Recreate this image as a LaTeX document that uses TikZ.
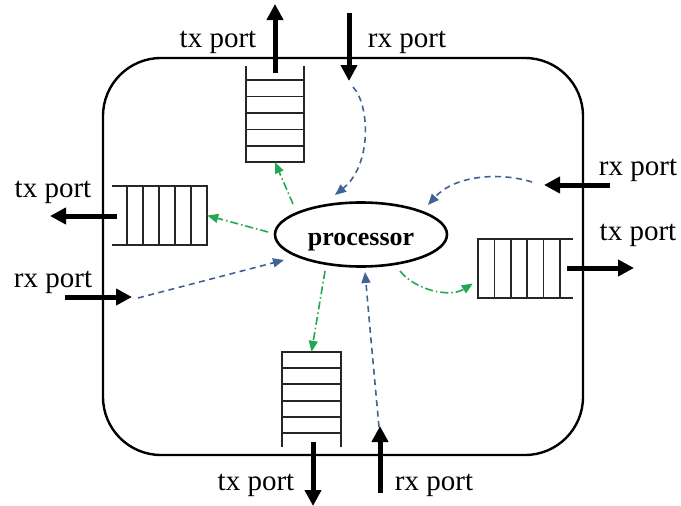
\documentclass[tikz,border=0pt]{standalone}
\usepackage{fontspec}
\setmainfont{Liberation Serif}
\usetikzlibrary{arrows.meta,shapes.geometric}
\definecolor{dblue}{RGB}{65,98,150}
\definecolor{dgreen}{RGB}{34,168,84}
\begin{document}
\begin{tikzpicture}[x=1pt,y=-1pt,
  port/.style={line width=5pt,-{Triangle[length=16pt,width=16pt]}},
  lbl/.style={font=\fontsize{29}{29}\selectfont, inner sep=0pt, anchor=base},
  qline/.style={line width=1.2pt, draw=black!85},
  qnode/.style={inner sep=0pt, draw=none},
  bl/.style={dblue, line width=1.6pt, dash pattern=on 6pt off 4.5pt, -{Triangle[length=11pt,width=9pt]}},
  gr/.style={dgreen, line width=1.6pt, dash pattern=on 8pt off 3pt on 1.5pt off 3pt, -{Triangle[length=11pt,width=9pt]}},
  procstyle/.style={ellipse, draw, line width=2.6pt, minimum width=172pt, minimum height=64pt, inner sep=0pt}
]
\useasboundingbox (0,0) rectangle (681,506);
% outer box
\draw[line width=2.4pt, rounded corners=58pt] (103,58) rectangle (583,455);

% processor
\node[procstyle] (proc) at (361,234.5) {};
\node[font=\bfseries\fontsize{26}{26}\selectfont, inner sep=0pt, anchor=base] (proctxt) at (361,245) {processor};

% queues
\node[qnode, minimum width=58pt, minimum height=82pt] (qT) at (275,121) {};
\draw[qline] (246,66) -- (246,162) -- (304,162) -- (304,66);
\foreach \y in {80,96.5,113,129.5,146} \draw[qline] (246,\y) -- (304,\y);

\node[qnode, minimum width=80pt, minimum height=59pt] (qL) at (167,215.5) {};
\draw[qline] (112,186) -- (207,186) -- (207,245) -- (112,245);
\foreach \x in {127,143,159,175,191} \draw[qline] (\x,186) -- (\x,245);

\node[qnode, minimum width=82pt, minimum height=59pt] (qR) at (519,268.5) {};
\draw[qline] (573,239) -- (478,239) -- (478,298) -- (573,298);
\foreach \x in {494.5,511,527,543.5,560} \draw[qline] (\x,239) -- (\x,298);

\node[qnode, minimum width=59pt, minimum height=81pt] (qB) at (311.5,392.5) {};
\draw[qline] (282,447) -- (282,352) -- (341,352) -- (341,447);
\foreach \y in {368,384,401,417,433} \draw[qline] (282,\y) -- (341,\y);

% port arrows
\coordinate (tTa) at (275,73);  \coordinate (tTb) at (275,4);
\coordinate (rTa) at (349,13);  \coordinate (rTb) at (349,81);
\coordinate (tLa) at (117,216); \coordinate (tLb) at (50,216);
\coordinate (rLa) at (65,297);  \coordinate (rLb) at (132,297);
\coordinate (rRa) at (610,185); \coordinate (rRb) at (544,185);
\coordinate (tRa) at (567,268); \coordinate (tRb) at (634,268);
\coordinate (tBa) at (313,442); \coordinate (tBb) at (313,506);
\coordinate (rBa) at (380,493); \coordinate (rBb) at (380,426);
\draw[port] (tTa) -- (tTb);
\draw[port] (rTa) -- (rTb);
\draw[port] (tLa) -- (tLb);
\draw[port] (rLa) -- (rLb);
\draw[port] (rRa) -- (rRb);
\draw[port] (tRa) -- (tRb);
\draw[port] (tBa) -- (tBb);
\draw[port] (rBa) -- (rBb);

% labels
\node[lbl] (lTt) at (218,47) {tx port};
\node[lbl] (lTr) at (407,47) {rx port};
\node[lbl] (lLt) at (53,197) {tx port};
\node[lbl] (lLr) at (53,287) {rx port};
\node[lbl] (lRr) at (638,175) {rx port};
\node[lbl] (lRt) at (638,240) {tx port};
\node[lbl] (lBt) at (256,490) {tx port};
\node[lbl] (lBr) at (434,490) {rx port};

% blue (rx) flows
\coordinate (bT0) at (353,87);   \coordinate (bT1) at (335,195);
\coordinate (bR0) at (532,182);  \coordinate (bR1) at (428,205);
\coordinate (bL0) at (138,298);  \coordinate (bL1) at (284,260);
\coordinate (bB0) at (379,427);  \coordinate (bB1) at (365,272);
\draw[bl] (bT0) .. controls (370,105) and (372,165) .. (bT1);
\draw[bl] (bR0) .. controls (500,172) and (455,175) .. (bR1);
\draw[bl] (bL0) -- (bL1);
\draw[bl] (bB0) .. controls (371,340) .. (bB1);

% green (tx) flows
\coordinate (gT0) at (293,204);
\coordinate (gL0) at (268,232);
\coordinate (gB0) at (325,271);
\coordinate (gR0) at (400,271);
\draw[gr] (gT0) -- (qT.south);
\draw[gr] (gL0) -- (qL.east);
\draw[gr] (gB0) -- (qB.north);
\draw[gr] (gR0) .. controls (415,290) and (450,298) .. ([xshift=-5pt]qR.200);
\end{tikzpicture}
\end{document}
